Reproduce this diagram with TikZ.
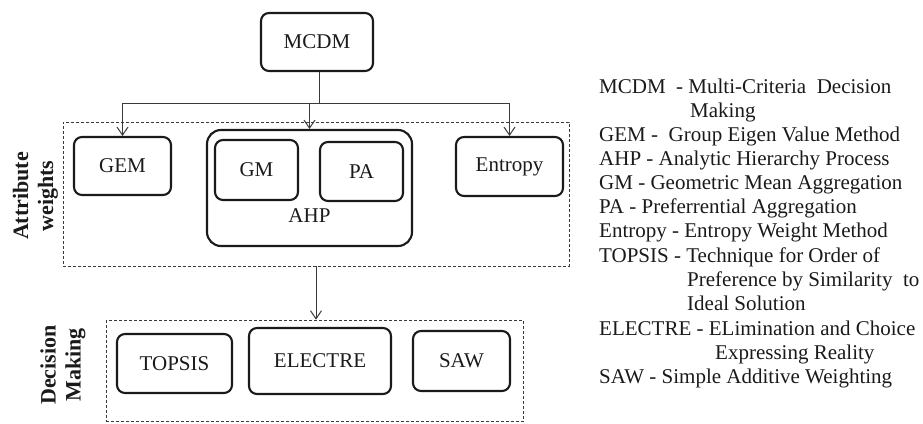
\documentclass[tikz,border=0pt]{standalone}
\usepackage{fontspec}
\setmainfont{Liberation Serif}
\usetikzlibrary{arrows.meta}
\definecolor{ink}{HTML}{1A1A1A}
\definecolor{wirec}{HTML}{3A3A3A}
\begin{document}
\begin{tikzpicture}[x=1pt,y=-1pt,
  box/.style={draw=ink, line width=2.1pt, rounded corners=8pt, inner sep=0pt,
    font=\fontsize{21}{24}\selectfont, text=ink},
  outerbox/.style={box, rounded corners=14pt},
  groupbox/.style={draw=wirec, line width=0.8pt, dash pattern=on 3pt off 2pt, inner sep=0pt},
  wire/.style={draw=wirec, line width=1pt},
  arr/.style={wire, -{Straight Barb[length=8pt,width=11pt]}},
  side/.style={rotate=90, align=center, inner sep=0pt,
    font=\bfseries\fontsize{22}{25}\selectfont, text=ink},
  legend/.style={anchor=base west, inner sep=0pt, font=\fontsize{21}{24}\selectfont, text=ink}]
\useasboundingbox (0,0) rectangle (923,423);

% group frames
\node[groupbox, minimum width=506pt, minimum height=144pt] (attr) at (316,194) {};
\node[groupbox, minimum width=417pt, minimum height=101.5pt] (dec) at (314.5,370.75) {};

% side labels
\node[side] (attrlab) at (35.5,196) {Attribute\\weights};
\node[side] (declab) at (63,365) {Decision\\Making};

% boxes
\node[box, minimum width=112pt, minimum height=58pt] (mcdm) at (317,42) {MCDM};
\node[box, minimum width=97pt, minimum height=58pt] (gem) at (122.5,166) {GEM};
\node[outerbox, minimum width=205pt, minimum height=116pt] (ahp) at (309.5,188) {};
\node[box, minimum width=83pt, minimum height=60pt] (gm) at (256.5,170) {GM};
\node[box, minimum width=83pt, minimum height=59pt] (pa) at (361.5,171.5) {PA};
\node[anchor=base, inner sep=0pt, font=\fontsize{21}{24}\selectfont, text=ink] (ahplab) at (309.5,222) {AHP};
\node[box, minimum width=107pt, minimum height=59pt] (ent) at (509.5,166.5) {Entropy};
\node[box, minimum width=115pt, minimum height=59pt] (topsis) at (174.5,363.5) {TOPSIS};
\node[box, minimum width=142pt, minimum height=66pt] (electre) at (320,361) {ELECTRE};
\node[box, minimum width=97pt, minimum height=60pt] (saw) at (461.5,361) {SAW};

% connectors
\coordinate (j) at (319,103);
\draw[wire] (mcdm.south -| j) -- (j);
\draw[arr] (j) -| (gem.north);
\draw[arr] (j) -| (ent.north);
\draw[arr] (j -| ahp.north) -- (ahp.north);
\draw[arr] (attr.south) -- (attr.south |- dec.north);

% legend
\node[legend] (l1) at (599,93) {MCDM\ \ - Multi-Criteria\ \ Decision};
\node[legend] (l2) at (690,117) {Making};
\node[legend] (l3) at (599,141) {GEM -\ \ Group Eigen Value Method};
\node[legend] (l4) at (599,165) {AHP - Analytic Hierarchy Process};
\node[legend] (l5) at (599,189) {GM - Geometric Mean Aggregation};
\node[legend] (l6) at (599,213.5) {PA - Preferrential Aggregation};
\node[legend] (l7) at (599,237.5) {Entropy - Entropy Weight Method};
\node[legend] (l8) at (599,262) {TOPSIS - Technique for Order of};
\node[legend] (l9) at (687,286) {Preference by Similarity\ \ to};
\node[legend] (l10) at (687,310) {Ideal Solution};
\node[legend] (l11) at (599,335) {ELECTRE - ELimination and Choice};
\node[legend] (l12) at (715,359) {Expressing Reality};
\node[legend] (l13) at (599,383) {SAW - Simple Additive Weighting};
\end{tikzpicture}
\end{document}
